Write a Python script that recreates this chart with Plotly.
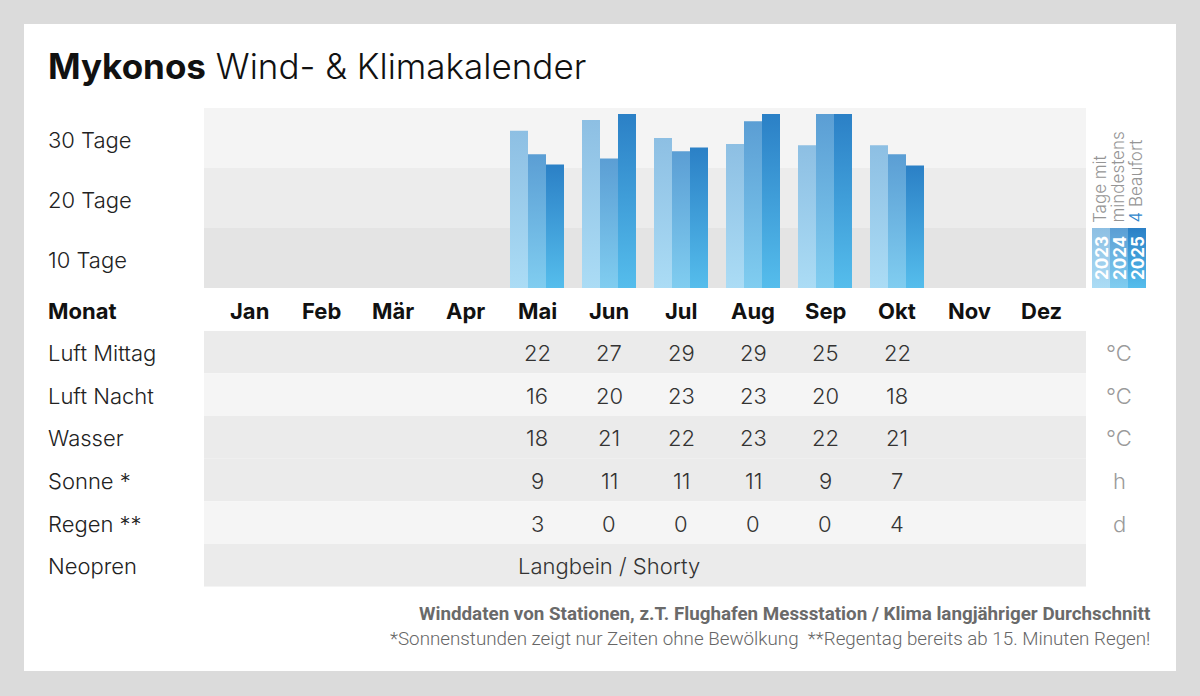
import plotly.graph_objects as go

# ---------------- data ----------------
months = ["Jan", "Feb", "Mär", "Apr", "Mai", "Jun", "Jul", "Aug", "Sep", "Okt", "Nov", "Dez"]
wind_months = ["Mai", "Jun", "Jul", "Aug", "Sep", "Okt"]
years = ["2023", "2024", "2025"]
days_2023 = [26.2, 28.0, 25.0, 24.0, 23.8, 23.8]
days_2024 = [22.3, 21.6, 22.8, 27.8, 29.0, 22.3]
days_2025 = [20.6, 29.0, 23.4, 29.0, 29.0, 20.4]
day_ticks = [25, 15, 5]
day_tick_labels = ["30 Tage", "20 Tage", "10 Tage"]

row_labels = ["Luft Mittag", "Luft Nacht", "Wasser", "Sonne *", "Regen **", "Neopren"]
row_units = ["°C", "°C", "°C", "h", "d", ""]
luft_mittag = [22, 27, 29, 29, 25, 22]
luft_nacht = [16, 20, 23, 23, 20, 18]
wasser = [18, 21, 22, 23, 22, 21]
sonne = [9, 11, 11, 11, 9, 7]
regen = [3, 0, 0, 0, 0, 4]
neopren_text = "Langbein / Shorty"
neopren_month = "Jun"

title_bold = "Mykonos"
title_rest = "Wind- & Klimakalender"
legend_lines = ["Tage mit", "mindestens", "4 Beaufort"]
footer1 = "Winddaten von Stationen, z.T. Flughafen Messstation / Klima langjähriger Durchschnitt"
footer2 = "*Sonnenstunden zeigt nur Zeiten ohne Bewölkung  **Regentag bereits ab 15. Minuten Regen!"

# ---------------- style ----------------
W, H = 1200, 696
FONT = "Inter, Lato, 'Open Sans', sans-serif"
FS = 22
bar_bottom = ["#abdcf5", "#80cdf0", "#55bdec"]
bar_top = ["#8dbfe3", "#5b9ed4", "#2b80c6"]
band_cols = ["#e4e4e4", "#ececec", "#f4f4f4"]
row_cols = ["#ebebeb", "#f5f5f5", "#ebebeb", "#ebebeb", "#f5f5f5", "#ebebeb"]


def px(x):
    return x / W


def py(y):
    return 1 - y / H


fig = go.Figure()
ann = []

# ---------------- bars with vertical gradients ----------------
series = [days_2023, days_2024, days_2025]
mi = {m: i for i, m in enumerate(months)}
bw = 0.25
for k, vals in enumerate(series):
    for m, v in zip(wind_months, vals):
        c = mi[m] + (k - 1) * bw
        x0, x1 = c - bw / 2, c + bw / 2
        fig.add_trace(go.Scatter(
            x=[x0, x1, x1, x0, x0], y=[0, 0, v, v, 0],
            mode="lines", fill="toself", line=dict(width=0),
            fillgradient=dict(type="vertical",
                              colorscale=[[0, bar_bottom[k]], [1, bar_top[k]]]),
            hoverinfo="skip", showlegend=False, xaxis="x", yaxis="y"))

# legend colour blocks (gradient) on their own small axes
for k, yr in enumerate(years):
    fig.add_trace(go.Scatter(
        x=[k, k + 1, k + 1, k, k], y=[0, 0, 1, 1, 0],
        mode="lines", fill="toself", line=dict(width=0),
        fillgradient=dict(type="vertical",
                          colorscale=[[0, bar_bottom[k]], [1, bar_top[k]]]),
        hoverinfo="skip", showlegend=False, xaxis="x3", yaxis="y3"))
    ann.append(dict(x=k + 0.5, y=0.5, xref="x3", yref="y3", text="<b>%s</b>" % yr,
                    textangle=-90, showarrow=False, xshift=1,
                    font=dict(family=FONT, size=17, color="white")))

# ---------------- table values ----------------
table_rows = [luft_mittag, luft_nacht, wasser, sonne, regen]
for r, vals in enumerate(table_rows):
    for m, v in zip(wind_months, vals):
        ann.append(dict(x=mi[m], y=r, xref="x", yref="y2", text=str(v), showarrow=False,
                        xanchor="center", yanchor="middle", yshift=-1,
                        font=dict(family=FONT, size=FS, color="#333333", weight=300)))
ann.append(dict(x=mi[neopren_month], y=5, xref="x", yref="y2", text=neopren_text, showarrow=False,
                xanchor="center", yanchor="middle", yshift=-1,
                font=dict(family=FONT, size=FS, color="#333333", weight=300)))

shapes = []
# card
shapes.append(dict(type="rect", xref="paper", yref="paper", x0=px(24), x1=px(1176),
                   y0=py(671), y1=py(24), fillcolor="white", line=dict(width=0), layer="below"))
# chart bands
for b in range(3):
    shapes.append(dict(type="rect", xref="x", yref="y", x0=-0.625, x1=11.625,
                       y0=b * 10, y1=(b + 1) * 10, fillcolor=band_cols[b],
                       line=dict(width=0), layer="below"))
# table rows
for r in range(6):
    shapes.append(dict(type="rect", xref="x", yref="y2", x0=-0.625, x1=11.625,
                       y0=r - 0.5, y1=r + 0.5, fillcolor=row_cols[r],
                       line=dict(width=0), layer="below"))

ann.append(dict(x=px(46), y=py(66), xref="paper", yref="paper", xanchor="left", yanchor="middle",
                text="<b>%s</b> %s" % (title_bold, title_rest), showarrow=False,
                font=dict(family=FONT, size=35, color="#111111", weight=300)))
for t, lab in zip(day_ticks, day_tick_labels):
    ann.append(dict(x=px(46), y=t, xref="paper", yref="y", xanchor="left", yanchor="middle",
                    text=lab, showarrow=False, yshift=-2,
                    font=dict(family=FONT, size=FS, color="#222222", weight=300)))
ann.append(dict(x=px(46), y=py(311), xref="paper", yref="paper", xanchor="left", yanchor="middle",
                text="<b>Monat</b>", showarrow=False, font=dict(family=FONT, size=FS, color="#111111")))
for i, m in enumerate(months):
    ann.append(dict(x=i, y=py(311), xref="x", yref="paper", xanchor="center", yanchor="middle",
                    text="<b>%s</b>" % m, showarrow=False, font=dict(family=FONT, size=FS, color="#111111")))
for r, (lab, unit) in enumerate(zip(row_labels, row_units)):
    ann.append(dict(x=px(46), y=r, xref="paper", yref="y2", xanchor="left", yanchor="middle",
                    text=lab, showarrow=False, yshift=-1,
                    font=dict(family=FONT, size=FS, color="#222222", weight=300)))
    if unit:
        ann.append(dict(x=px(1119), y=r, xref="paper", yref="y2", xanchor="center", yanchor="middle",
                        text=unit, showarrow=False, yshift=-1,
                        font=dict(family=FONT, size=FS, color="#9a9a9a", weight=300)))
# legend text
leg_x = [1100, 1117, 1135]
for lx, line in zip(leg_x, legend_lines):
    txt = line
    if line.startswith("4 "):
        txt = "<span style='color:#2e86cc'>4</span>" + line[1:]
    ann.append(dict(x=px(lx), y=py(225), xref="paper", yref="paper", xanchor="center", yanchor="bottom",
                    text=txt, textangle=-90, showarrow=False,
                    font=dict(family=FONT, size=17, color="#959595", weight=300)))
# footer
ann.append(dict(x=px(1152), y=py(614), xref="paper", yref="paper", xanchor="right", yanchor="middle",
                text="<b>%s</b>" % footer1, showarrow=False,
                font=dict(family="Roboto, sans-serif", size=18.8, color="#6a6a6a")))
ann.append(dict(x=px(1152), y=py(639), xref="paper", yref="paper", xanchor="right", yanchor="middle",
                text=footer2, showarrow=False,
                font=dict(family="Roboto, sans-serif", size=18.8, color="#666666", weight=300)))

ax_common = dict(visible=False, fixedrange=True, showgrid=False, zeroline=False)
fig.update_layout(
    width=W, height=H, margin=dict(l=0, r=0, t=0, b=0),
    paper_bgcolor="#dbdbdb", plot_bgcolor="rgba(0,0,0,0)",
    showlegend=False,
    xaxis=dict(domain=[px(204), px(1086)], range=[-0.625, 11.625], anchor="y", **ax_common),
    yaxis=dict(domain=[py(288), py(108)], range=[0, 30], anchor="x", **ax_common),
    yaxis2=dict(domain=[py(586.7), py(330.7)], range=[5.5, -0.5], anchor="x", **ax_common),
    xaxis3=dict(domain=[px(1092), px(1146)], range=[0, 3], anchor="y3", **ax_common),
    yaxis3=dict(domain=[py(288), py(228)], range=[0, 1], anchor="x3", **ax_common),
    shapes=shapes, annotations=ann,
)

fig.write_html("out.html", config={"displayModeBar": False},
               post_script="document.body.style.margin='0px';document.body.style.overflow='hidden';")
